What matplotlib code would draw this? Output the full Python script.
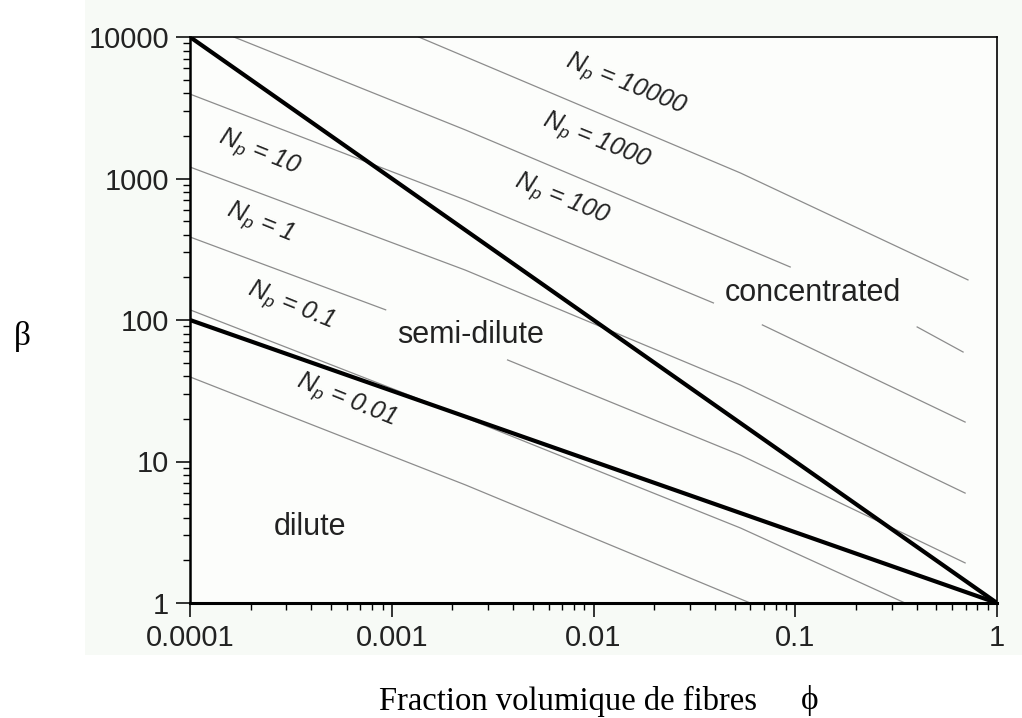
import matplotlib
matplotlib.use('Agg')
import numpy as np
import matplotlib.pyplot as plt
from matplotlib.patches import Rectangle
from matplotlib.ticker import FixedLocator, FixedFormatter, LogLocator, NullFormatter

plt.rcParams['font.family'] = ['Liberation Sans', 'DejaVu Sans']
plt.rcParams['mathtext.fontset'] = 'custom'
plt.rcParams['mathtext.it'] = 'Liberation Sans:italic'
plt.rcParams['mathtext.rm'] = 'Liberation Sans'

# regime boundaries (phi, beta)
phi_edges = [1e-4, 1.0]
beta_concentrated = [1e4, 1.0]   # semi-dilute / concentrated
beta_dilute = [100.0, 1.0]       # dilute / semi-dilute

# iso-Np curves, broken where the region labels sit on them
np_curves = [
    [[(1.36e-3, 1e4), (0.0535, 1094), (0.718, 192)]],
    [[(1.65e-4, 1e4), (2.32e-3, 2203), (0.0944, 237)],
     [(0.402, 89.3), (0.679, 59.4)]],
    [[(1e-4, 3950), (2.32e-3, 705), (0.0393, 132)],
     [(0.0687, 92.3), (0.695, 19.0)]],
    [[(1e-4, 1205), (2.32e-3, 225), (0.0535, 34.7), (0.695, 5.98)]],
    [[(1e-4, 386), (9.33e-4, 118)],
     [(3.75e-3, 52.2), (0.0535, 11.1), (0.695, 1.92)]],
    [[(1e-4, 118), (1.285e-3, 28.6), (0.0535, 3.39), (0.35, 1.0)]],
    [[(1e-4, 39.6), (2.32e-3, 6.83), (0.0598, 1.0)]],
]

np_values = ['10000', '1000', '100', '10', '1', '0.1', '0.01']
regions = ['dilute', 'semi-dilute', 'concentrated']

x_ticks = [1e-4, 1e-3, 1e-2, 1e-1, 1.0]
x_ticklabels = ['0.0001', '0.001', '0.01', '0.1', '1']
y_ticks = [1, 10, 100, 1000, 10000]
y_ticklabels = ['1', '10', '100', '1000', '10000']

W, H = 1022, 718
fig = plt.figure(figsize=(W / 100, H / 100), dpi=100)
fig.patch.set_facecolor('white')
fig.patches.append(Rectangle((85 / W, 1 - 655 / H), 1, 1, transform=fig.transFigure,
                             facecolor='#f7faf6', edgecolor='none', zorder=-10))

ax = fig.add_axes([190 / W, 1 - 603 / H, 807 / W, 566 / H])
ax.set_facecolor('#fcfdfb')
ax.set_xscale('log')
ax.set_yscale('log')
ax.set_xlim(1e-4, 1)
ax.set_ylim(1, 1e4)

for curve in np_curves:
    for seg in curve:
        px, py = zip(*seg)
        ax.plot(px, py, color='#8c8c8c', lw=0.9, zorder=2)

ax.plot(phi_edges, beta_concentrated, color='black', lw=3.0, zorder=3, solid_capstyle='butt')
ax.plot(phi_edges, beta_dilute, color='black', lw=3.0, zorder=3, solid_capstyle='butt')

# Np labels along the curves
np_pos = [(0.0144, 4580), (0.01035, 1841), (6.95e-3, 705), (2.2e-4, 1514),
          (2.22e-4, 484), (3.16e-4, 125.6), (5.92e-4, 27.2)]
for val, (x, y) in zip(np_values, np_pos):
    ax.text(x, y, r'$N_p$ = ' + val, rotation=-22, ha='center', va='center',
            fontsize=18, style='italic', color='#222222', zorder=4)

region_pos = [(3.93e-4, 3.44), (2.46e-3, 78.3), (0.1227, 155)]
for name, (x, y) in zip(regions, region_pos):
    ax.text(x, y, name, ha='center', va='center', fontsize=22, color='#222222', zorder=4)

ax.xaxis.set_major_locator(FixedLocator(x_ticks))
ax.xaxis.set_major_formatter(FixedFormatter(x_ticklabels))
ax.yaxis.set_major_locator(FixedLocator(y_ticks))
ax.yaxis.set_major_formatter(FixedFormatter(y_ticklabels))
ax.xaxis.set_minor_locator(LogLocator(base=10, subs=np.arange(2, 10)))
ax.yaxis.set_minor_locator(LogLocator(base=10, subs=np.arange(2, 10)))
ax.xaxis.set_minor_formatter(NullFormatter())
ax.yaxis.set_minor_formatter(NullFormatter())

ax.tick_params(which='major', direction='out', length=10, width=1.3, labelsize=21,
               pad=5, colors='#222222')
ax.tick_params(which='minor', direction='out', length=5, width=1.0)
ax.tick_params(top=False, right=False, which='both')

ax.spines['bottom'].set_linewidth(2.2)
ax.spines['left'].set_linewidth(1.8)
ax.spines['top'].set_linewidth(1.2)
ax.spines['right'].set_linewidth(1.2)

serif = ['Liberation Serif', 'DejaVu Serif']
fig.text(22 / W, 1 - 336 / H, 'β', family=serif, fontsize=24, ha='center', va='center')
fig.text(568 / W, 1 - 710 / H, 'Fraction volumique de fibres', family=serif,
         fontsize=23.5, ha='center', va='baseline')
fig.text(810 / W, 1 - 701 / H, 'ϕ', family=serif, fontsize=24, ha='center', va='center')

fig.savefig('out.png', dpi=100)
